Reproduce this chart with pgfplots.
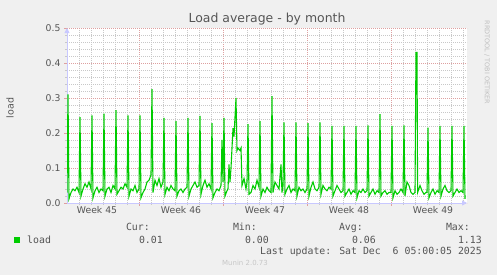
\documentclass[border=0pt]{standalone}
\usepackage{pgfplots}
\pgfplotsset{compat=1.18}
\usepackage{fontspec}
\setmainfont{DejaVu Sans}
\newfontfamily\monofont{DejaVu Sans Mono}
\usetikzlibrary{arrows.meta}
\definecolor{bgc}{RGB}{240,240,240}
\definecolor{lgreen}{RGB}{0,204,0}
\definecolor{txt}{RGB}{85,85,85}
\definecolor{mgrid}{RGB}{222,160,160}
\definecolor{grid}{RGB}{200,200,200}
\definecolor{axblue}{RGB}{200,200,255}
\begin{document}
\begin{tikzpicture}
\fill[bgc] (0,0) rectangle (497bp,275bp);
\begin{axis}[
  at={(67bp,72bp)}, anchor=origin,
  scale only axis, width=400bp, height=175bp,
  xmin=0, xmax=400, ymin=0, ymax=0.5,
  axis background/.style={fill=white},
  axis x line=bottom, axis y line=left,
  axis line style={color=axblue, line width=0.8bp},
  every outer x axis line/.append style={-{Triangle[length=5bp,width=5bp]}},
  every outer y axis line/.append style={-{Triangle[length=5bp,width=5bp]}},
  xtick={72,156,240,324}, xticklabels={},
  minor xtick={12,24,36,48,60,84,96,108,120,132,144,168,180,192,204,216,228,252,264,276,288,300,312,336,348,360,372,384,396},
  extra x ticks={30,114,198,282,366},
  extra x tick labels={Week 45,Week 46,Week 47,Week 48,Week 49},
  extra x tick style={grid=none, major tick length=0pt},
  ytick={0,0.1,0.2,0.3,0.4,0.5},
  minor ytick={0.02,0.04,0.06,0.08,0.12,0.14,0.16,0.18,0.22,0.24,0.26,0.28,0.32,0.34,0.36,0.38,0.42,0.44,0.46,0.48},
  yticklabel style={/pgf/number format/.cd, fixed, fixed zerofill, precision=1},
  /pgf/number format/assume math mode=true,
  ticklabel style={font=\fontsize{9.3}{11}\selectfont, text=txt},
  grid=both,
  major grid style={color=mgrid, line width=0.6bp, dash pattern=on 1bp off 1bp},
  minor grid style={color=grid, line width=0.6bp, dash pattern=on 1bp off 1bp},
  tick align=outside,
  major tick length=3bp, minor tick length=2bp,
  major tick style={color=mgrid},
  minor tick style={color=grid},
  clip=true,
]
\addplot[color=lgreen, line width=1.1bp, line join=miter] table {
x y
0 0.03
1 0.31
2 0.012
4 0.03
6 0.04
8 0.035
10 0.045
12 0.03
13 0.245
14 0.02
16 0.04
18 0.055
20 0.045
22 0.06
24 0.04
25 0.25
26 0.015
28 0.035
30 0.045
32 0.03
34 0.04
36 0.035
37 0.255
38 0.02
40 0.04
42 0.045
44 0.03
46 0.05
48 0.04
49 0.265
50 0.025
52 0.035
54 0.045
56 0.04
58 0.055
60 0.045
61 0.25
62 0.02
64 0.04
66 0.035
68 0.05
70 0.03
72 0.04
73 0.25
74 0.015
76 0.03
78 0.04
80 0.06
82 0.065
84 0.08
85 0.325
86 0.03
88 0.065
90 0.05
92 0.07
94 0.045
96 0.06
97 0.243
98 0.025
100 0.045
102 0.035
104 0.05
106 0.04
108 0.035
109 0.234
110 0.02
112 0.035
114 0.04
116 0.03
118 0.04
120 0.045
121 0.243
122 0.02
124 0.04
126 0.05
128 0.06
130 0.045
132 0.05
133 0.249
134 0.025
136 0.05
138 0.065
140 0.045
142 0.055
144 0.04
145 0.228
146 0.015
148 0.03
150 0.04
152 0.035
154 0.05
155 0.18
156 0.06
157 0.243
158 0.02
160 0.035
161 0.04
162 0.11
163 0.06
164 0.10
166 0.214
167 0.19
169 0.30
170 0.15
171 0.157
173 0.15
174 0.157
175 0.05
177 0.07
179 0.04
180 0.06
181 0.225
182 0.025
184 0.03
186 0.05
188 0.04
190 0.065
192 0.045
193 0.234
194 0.02
196 0.04
198 0.03
200 0.045
202 0.035
204 0.03
205 0.305
206 0.03
208 0.06
210 0.05
212 0.04
214 0.11
215 0.03
216 0.05
217 0.23
218 0.025
220 0.04
222 0.05
224 0.03
226 0.04
228 0.035
229 0.23
230 0.02
232 0.045
234 0.035
236 0.04
238 0.03
240 0.04
241 0.228
242 0.02
244 0.045
246 0.06
248 0.04
250 0.035
252 0.045
253 0.23
254 0.025
256 0.05
258 0.04
260 0.035
262 0.045
264 0.04
265 0.22
266 0.02
268 0.035
270 0.05
272 0.04
274 0.03
276 0.035
277 0.22
278 0.02
280 0.03
282 0.04
284 0.025
286 0.035
288 0.03
289 0.22
290 0.015
292 0.035
294 0.03
296 0.04
298 0.03
300 0.035
301 0.222
302 0.02
304 0.03
306 0.04
308 0.025
310 0.035
312 0.03
313 0.254
314 0.02
316 0.03
318 0.035
320 0.025
322 0.03
324 0.03
325 0.22
326 0.015
328 0.035
330 0.025
332 0.03
334 0.04
336 0.03
337 0.222
338 0.02
340 0.06
342 0.05
344 0.03
346 0.025
348 0.03
349 0.43
350 0.43
350.6 0.03
353 0.05
355 0.035
357 0.025
359 0.03
360 0.03
361 0.215
362 0.015
364 0.03
366 0.04
368 0.025
370 0.035
372 0.03
373 0.22
374 0.02
376 0.04
378 0.05
380 0.035
382 0.03
384 0.035
385 0.22
386 0.02
388 0.03
390 0.04
392 0.03
394 0.035
396 0.03
397 0.22
398 0.012
};
\end{axis}
% title and labels
\node[text=txt, font=\fontsize{12.5}{14}\selectfont] at (267bp,256bp) {Load average - by month};
\node[text=txt, font=\fontsize{9.5}{11}\selectfont, rotate=90] at (10bp,167bp) {load};
\node[text=black!25, font=\fontsize{6.5}{8}\selectfont, rotate=-90, anchor=west] at (487bp,258bp) {RRDTOOL / TOBI OETIKER};
% legend
\fill[lgreen] (14bp,32bp) rectangle (20bp,38bp);
\begin{scope}[every node/.style={text=txt, font=\monofont\fontsize{9.9}{11}\selectfont, inner sep=0pt}]
\node[anchor=base west] at (27bp,32bp) {load};
\node[anchor=base east] at (150bp,44bp) {Cur:};
\node[anchor=base east] at (163bp,32bp) {0.01};
\node[anchor=base east] at (257bp,44bp) {Min:};
\node[anchor=base east] at (269bp,32bp) {0.00};
\node[anchor=base east] at (363bp,44bp) {Avg:};
\node[anchor=base east] at (376bp,32bp) {0.06};
\node[anchor=base east] at (470bp,44bp) {Max:};
\node[anchor=base east] at (482bp,32bp) {1.13};
\node[anchor=base east] at (482bp,21bp) {Last update: Sat Dec\ \ 6 05:00:05 2025};
\end{scope}
\node[text=black!22, font=\fontsize{7}{8}\selectfont] at (245bp,12bp) {Munin 2.0.73};
\end{tikzpicture}
\end{document}
